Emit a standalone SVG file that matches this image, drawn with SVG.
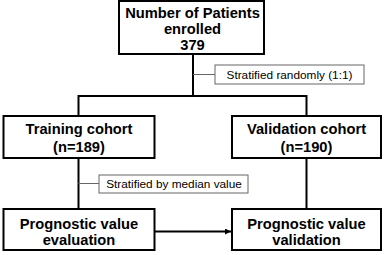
<svg xmlns="http://www.w3.org/2000/svg" width="385" height="255" viewBox="0 0 385 255">
<style>
.box{fill:#fff;stroke:#000;stroke-width:2}
.lbl{fill:#fff;stroke:#666;stroke-width:1}
.t{font-family:"Liberation Sans",Arial,sans-serif;font-weight:bold;font-size:14.7px;fill:#000;text-anchor:middle}
.s{font-family:"Liberation Sans",Arial,sans-serif;font-size:11.8px;fill:#000;text-anchor:middle}
.c{fill:none;stroke:#000;stroke-width:2}
.g{fill:none;stroke:#666;stroke-width:1}
</style>
<defs>
<marker id="ah" viewBox="0 0 10 10" refX="10" refY="5" markerWidth="3" markerHeight="3" orient="auto" markerUnits="strokeWidth">
<path d="M0,0 L10,5 L0,10 z" fill="#000"/>
</marker>
</defs>
<rect width="385" height="255" fill="#fff"/>
<g id="connectors">
<path class="c" d="M193,54 V96"/>
<path class="c" d="M78.5,116 V96 H306.5 V116"/>
<path class="c" d="M78.5,158 V209"/>
<path class="c" d="M306.5,158 V209"/>
<path class="c" d="M154,231.5 H231" marker-end="url(#ah)"/>
<path class="g" d="M193,74.5 H215"/>
<path class="g" d="M78.5,183.5 H99"/>
</g>
<g id="top">
<rect class="box" x="119" y="1" width="145" height="53"/>
<text class="t" x="192.5" y="17.5">Number of Patients</text>
<text class="t" x="192.5" y="33.5">enrolled</text>
<text class="t" x="192.5" y="50">379</text>
</g>
<g id="lbl-random">
<rect class="lbl" x="215" y="65" width="149" height="19"/>
<text class="s" x="289.5" y="78.8">Stratified randomly (1:1)</text>
</g>
<g id="training">
<rect class="box" x="3.5" y="116" width="151" height="42"/>
<text class="t" x="79" y="134.3">Training cohort</text>
<text class="t" x="79" y="151.7">(n=189)</text>
</g>
<g id="validation">
<rect class="box" x="232" y="116" width="149" height="42"/>
<text class="t" x="306.5" y="134.3">Validation cohort</text>
<text class="t" x="306.5" y="151.7">(n=190)</text>
</g>
<g id="lbl-median">
<rect class="lbl" x="99" y="175" width="149" height="18"/>
<text class="s" x="174" y="188.3">Stratified by median value</text>
</g>
<g id="eval">
<rect class="box" x="3.5" y="209" width="151" height="41"/>
<text class="t" x="79" y="229.3">Prognostic value</text>
<text class="t" x="79" y="245">evaluation</text>
</g>
<g id="valid">
<rect class="box" x="232" y="209" width="149" height="41"/>
<text class="t" x="306.5" y="229.3">Prognostic value</text>
<text class="t" x="306.5" y="245">validation</text>
</g>
</svg>
